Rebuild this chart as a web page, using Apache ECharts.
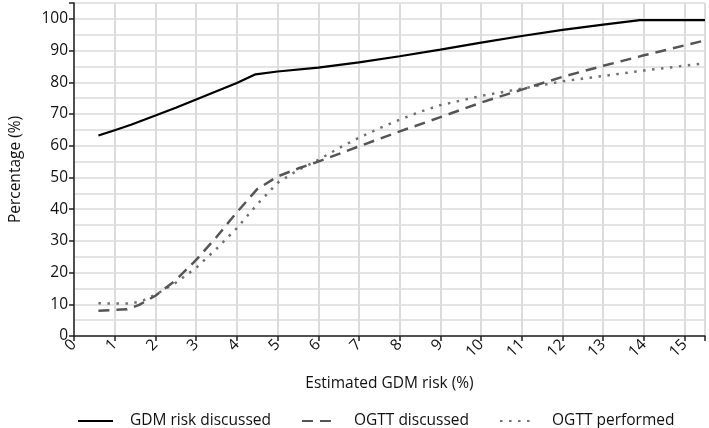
<!DOCTYPE html>
<html>
<head>
<meta charset="utf-8">
<script src="https://cdn.jsdelivr.net/npm/echarts@6/dist/echarts.min.js"></script>
<style>html,body{margin:0;padding:0;background:#fff;}#c{width:709px;height:428px;}</style>
</head>
<body>
<div id="c"></div>
<script>
const seriesNames = ['GDM risk discussed', 'OGTT discussed', 'OGTT performed'];
const gdmRiskDiscussed = [[0.6,63.2],[1,64.9],[1.4,66.6],[2,69.5],[2.5,72],[3,74.6],[3.5,77.2],[4,79.8],[4.46,82.5],[5,83.4],[6,84.6],[7,86.3],[8,88.2],[9,90.3],[10,92.5],[11,94.6],[12,96.5],[13,98.2],[13.9,99.6],[15.5,99.6]];
const ogttDiscussed = [[0.6,8.0],[1.3,8.4],[1.6,9.8],[2,12.7],[2.5,17.6],[3,24],[3.5,31.2],[4,39],[4.5,46.3],[5,50.3],[5.5,52.8],[6,55],[7,59.8],[8,64.5],[9,69],[10,73.6],[11,77.7],[12,81.7],[13,85.2],[14,88.5],[15.5,93.2]];
const ogttPerformed = [[0.6,10.3],[1.4,10.2],[1.7,11.2],[2,13],[2.5,16.8],[3,21.5],[3.5,27.5],[4,34],[4.5,41.5],[5,48.3],[5.5,52.3],[6,55.5],[6.5,59.2],[7,62.5],[7.5,65.5],[8,68.2],[8.5,70.7],[9,72.8],[10,75.7],[11,78],[12,80.3],[13,82],[14,83.7],[15.5,86]];
const xMin = 0, xMax = 15.5, yMin = 0, yMax = 105;
const xName = 'Estimated GDM risk (%)';
const yName = 'Percentage (%)';

const FONT = 'Open Sans';
const chart = echarts.init(document.getElementById('c'), null, {renderer: 'canvas'});
chart.setOption({
  animation: false,
  backgroundColor: '#fff',
  textStyle: {fontFamily: FONT},
  grid: {left: 61, right: 4, top: 3, bottom: 92, show: true, borderColor: '#444', borderWidth: 1, containLabel: false},
  legend: {
    top: 408, left: 72,
    itemWidth: 35, itemHeight: 14, itemGap: 30,
    itemStyle: {opacity: 0},
    textStyle: {fontFamily: FONT, fontSize: 15.5, color: '#111', padding: [0, 0, 0, 12]},
    data: seriesNames
  },
  xAxis: {
    type: 'value', min: xMin, max: xMax, interval: 1,
    name: xName, nameLocation: 'middle', nameGap: 40,
    nameTextStyle: {fontFamily: FONT, fontSize: 15.5, color: '#111'},
    axisLine: {show: true, onZero: false, lineStyle: {color: '#222', width: 1.5}},
    axisTick: {show: true, length: 5, lineStyle: {color: '#222', width: 1.5}},
    axisLabel: {rotate: 45, fontFamily: FONT, fontSize: 15.5, color: '#111', margin: 6,
      formatter: v => (Math.abs(v - Math.round(v)) < 1e-6 ? String(Math.round(v)) : '')},
    splitLine: {show: true, lineStyle: {color: '#dcdcdc', width: 2}}
  },
  yAxis: [{
    type: 'value', min: yMin, max: yMax, interval: 10,
    name: yName, nameLocation: 'middle', nameGap: 50,
    nameTextStyle: {fontFamily: FONT, fontSize: 15.5, color: '#111'},
    axisLine: {show: true, lineStyle: {color: '#222', width: 1.5}},
    axisTick: {show: true, length: 5, lineStyle: {color: '#222', width: 1.5}},
    axisLabel: {fontFamily: FONT, fontSize: 15.5, color: '#111', margin: 6,
      formatter: v => (v % 10 === 0 ? String(v) : '')},
    splitLine: {show: true, lineStyle: {color: '#dcdcdc', width: 2}}
  }, {
    type: 'value', min: yMin, max: yMax, interval: 5, position: 'left',
    axisLine: {show: false}, axisTick: {show: false}, axisLabel: {show: false},
    splitLine: {show: true, lineStyle: {color: '#e4e4e4', width: 2}}
  }],
  series: [{
    name: seriesNames[0], type: 'line', data: gdmRiskDiscussed, symbol: 'none',
    lineStyle: {color: '#000', width: 2.2, type: 'solid'}, itemStyle: {color: '#000'}, z: 5
  }, {
    name: seriesNames[1], type: 'line', data: ogttDiscussed, symbol: 'none',
    lineStyle: {color: '#555', width: 2.5, type: [11, 7]}, itemStyle: {color: '#555'}, z: 4
  }, {
    name: seriesNames[2], type: 'line', data: ogttPerformed, symbol: 'none',
    lineStyle: {color: '#707070', width: 2.5, type: [2.5, 6.5], cap: 'butt'}, itemStyle: {color: '#707070'}, z: 3
  }]
});
</script>
</body>
</html>
